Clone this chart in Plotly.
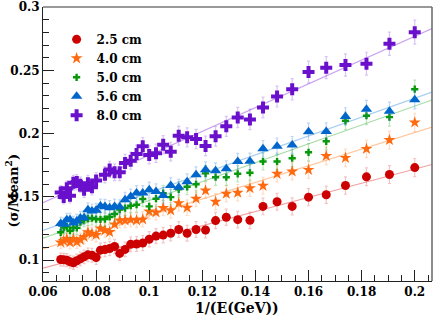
import numpy as np
import plotly.graph_objects as go

# Beam energies (GeV); x axis is 1/E
energy_gev = [15, 14.75, 14.5, 14.25, 14, 13.75, 13.5, 13.25, 13, 12.75, 12.5, 12.25,
              12, 11.75, 11.5, 11.25, 11, 10.75, 10.5, 10.25, 10, 9.75, 9.5, 9.25,
              9, 8.75, 8.5, 8.25, 8, 7.75, 7.5, 7.25, 7, 6.75, 6.5, 6.25, 6, 5.75,
              5.5, 5.25, 5]

res_2p5 = [0.1005, 0.1003, 0.1000, 0.0987, 0.0979, 0.0995, 0.1010, 0.1026, 0.1042, 0.1039,
           0.1021, 0.1079, 0.1084, 0.1092, 0.1108, 0.1053, 0.1085, 0.1125, 0.1128, 0.1135,
           0.1165, 0.1190, 0.1198, 0.1213, 0.1242, 0.1213, 0.1242, 0.1238, 0.1313, 0.1339,
           0.1320, 0.1315, 0.1425, 0.1462, 0.1425, 0.1498, 0.1517, 0.1590, 0.1659, 0.1677,
           0.1732]
res_4p0 = [0.1140, 0.1152, 0.1168, 0.1140, 0.1168, 0.1145, 0.1160, 0.1184, 0.1220, 0.1210,
           0.1200, 0.1250, 0.1236, 0.1222, 0.1283, 0.1313, 0.1315, 0.1320, 0.1315, 0.1322,
           0.1385, 0.1378, 0.1413, 0.1394, 0.1451, 0.1415, 0.1486, 0.1551, 0.1462, 0.1525,
           0.1533, 0.1569, 0.1588, 0.1683, 0.1701, 0.1714, 0.1824, 0.1809, 0.1880, 0.1950,
           0.2089]
res_5p0 = [0.1220, 0.1257, 0.1265, 0.1233, 0.1257, 0.1255, 0.1300, 0.1318, 0.1328, 0.1333,
           0.1325, 0.1323, 0.1325, 0.1341, 0.1365, 0.1400, 0.1412, 0.1430, 0.1438, 0.1483,
           0.1425, 0.1486, 0.1530, 0.1498, 0.1560, 0.1580, 0.1600, 0.1686, 0.1656, 0.1656,
           0.1683, 0.1691, 0.1780, 0.1780, 0.1806, 0.1853, 0.1940, 0.2102, 0.2142, 0.2131,
           0.2352]
res_5p6 = [0.1289, 0.1283, 0.1320, 0.1320, 0.1294, 0.1310, 0.1333, 0.1336, 0.1399, 0.1388,
           0.1394, 0.1428, 0.1425, 0.1415, 0.1425, 0.1420, 0.1478, 0.1504, 0.1530, 0.1530,
           0.1557, 0.1543, 0.1512, 0.1590, 0.1577, 0.1620, 0.1675, 0.1714, 0.1706, 0.1722,
           0.1780, 0.1782, 0.1880, 0.1900, 0.1911, 0.2016, 0.2018, 0.2136, 0.2194, 0.2178,
           0.2268]
res_8p0 = [0.1535, 0.1499, 0.1569, 0.1509, 0.1612, 0.1617, 0.1596, 0.1557, 0.1609, 0.1577,
           0.1630, None, 0.1675, 0.1717, 0.1695, 0.1695, 0.1769, 0.1787, 0.1840, 0.1900,
           0.1832, 0.1845, 0.1913, 0.1858, 0.1984, 0.1971, 0.1958, 0.1903, 0.1979, 0.2058,
           0.2128, 0.2113, 0.2207, 0.2294, 0.2352, 0.2488, 0.2522, 0.2543, 0.2554, 0.2711,
           0.2803]

err_common = [0.0050, 0.0050, 0.0051, 0.0051, 0.0052, 0.0052, 0.0053, 0.0053, 0.0054,
              0.0054, 0.0055, 0.0055, 0.0056, 0.0056, 0.0057, 0.0057, 0.0058,
              0.0058, 0.0059, 0.0059, 0.0060, 0.0060, 0.0061, 0.0061, 0.0062,
              0.0062, 0.0063, 0.0063, 0.0064, 0.0064, 0.0065, 0.0065, 0.0066,
              0.0066, 0.0067, 0.0068, 0.0068, 0.0069, 0.0070, 0.0071, 0.0072]
err_8p0 = [0.0055, 0.0055, 0.0056, 0.0057, 0.0058, 0.0059, 0.0060, 0.0060, 0.0061,
           0.0062, 0.0063, 0.0064, 0.0064, 0.0065, 0.0066, 0.0067, 0.0068,
           0.0068, 0.0069, 0.0070, 0.0071, 0.0072, 0.0072, 0.0073, 0.0074,
           0.0075, 0.0076, 0.0077, 0.0078, 0.0079, 0.0080, 0.0081, 0.0082,
           0.0083, 0.0084, 0.0086, 0.0087, 0.0088, 0.0090, 0.0092, 0.0095]

labels = ["2.5 cm", "4.0 cm", "5.0 cm", "5.6 cm", "8.0 cm"]
x_range = [0.06, 0.2065]
y_range = [0.0835, 0.3002]
x_ticks = [0.06, 0.08, 0.1, 0.12, 0.14, 0.16, 0.18, 0.2]
x_ticktext = ["0.06", "0.08", "0.1", "0.12", "0.14", "0.16", "0.18", "0.2"]
y_ticks = [0.1, 0.15, 0.2, 0.25, 0.3]
y_ticktext = ["0.1", "0.15", "0.2", "0.25", "0.3"]

inv_e = [1.0 / e for e in energy_gev]

styles = [
    (res_2p5, err_common, "#cc0000", "rgba(220,60,60,0.30)", "#f0a0a0", "circle", 9),
    (res_4p0, err_common, "#ff6a10", "rgba(255,140,60,0.30)", "#ffc8a0", "star", 9),
    (res_5p0, err_common, "#079907", "rgba(40,170,40,0.30)", "#a8dca8", "cross", 6),
    (res_5p6, err_common, "#0066cc", "rgba(40,120,220,0.30)", "#a8cff0", "triangle-up", 10),
    (res_8p0, err_8p0, "#6a0fcc", "rgba(130,60,220,0.30)", "#caa4f0", "cross", 10),
]

FONT = "DejaVu Serif"
fig = go.Figure()

# fit lines (linear fits of each series)
for (vals, errs, col, ecol, lcol, sym, sz), lab in zip(styles, labels):
    xs = np.array([x for x, v in zip(inv_e, vals) if v is not None])
    ys = np.array([v for v in vals if v is not None])
    ws = np.array([1.0 / e for e, v in zip(errs, vals) if v is not None])
    slope, icpt = np.polyfit(xs, ys, 1, w=ws)
    fig.add_trace(go.Scatter(x=x_range, y=[icpt + slope * x_range[0], icpt + slope * x_range[1]],
                             mode="lines", line=dict(color=lcol, width=1.2),
                             showlegend=False, hoverinfo="skip"))

for (vals, errs, col, ecol, lcol, sym, sz), lab in zip(styles, labels):
    fig.add_trace(go.Scatter(
        x=inv_e, y=vals, mode="markers", name=lab,
        marker=dict(symbol=sym, size=sz, color=col, line=dict(width=0)),
        error_y=dict(type="data", array=errs, visible=True, color=ecol, thickness=1.2, width=1.5),
    ))

tickfont = dict(family=FONT, size=12, color="black", weight="bold")
fig.update_layout(
    width=441, height=315,
    margin=dict(l=43, r=9, t=7, b=34),
    paper_bgcolor="white", plot_bgcolor="white",
    showlegend=True,
    legend=dict(x=0.035, y=0.935, xanchor="left", yanchor="top",
                font=dict(family=FONT, size=12, color="black", weight="bold"),
                bgcolor="rgba(0,0,0,0)", itemwidth=30, tracegroupgap=0),
    xaxis=dict(range=x_range, showgrid=False, zeroline=False,
               tickmode="array", tickvals=x_ticks, ticktext=x_ticktext,
               ticks="inside", ticklen=11, tickcolor="#222", tickwidth=1,
               minor=dict(ticks="inside", ticklen=6, dtick=0.005, tick0=0.06, tickcolor="#222"),
               showline=True, linecolor="#222", linewidth=1, mirror=False,
               tickfont=tickfont, automargin=False),
    yaxis=dict(range=y_range, showgrid=False, zeroline=False,
               tickmode="array", tickvals=y_ticks, ticktext=y_ticktext,
               ticks="inside", ticklen=11, tickcolor="#222", tickwidth=1,
               minor=dict(ticks="inside", ticklen=6, dtick=0.01, tick0=0.1, tickcolor="#222"),
               showline=True, linecolor="#222", linewidth=1, mirror=False,
               tickfont=tickfont, automargin=False),
    shapes=[
        dict(type="line", xref="paper", yref="paper", x0=0, x1=1, y0=1, y1=1,
             line=dict(color="#999999", width=2)),
        dict(type="line", xref="paper", yref="paper", x0=1, x1=1, y0=0, y1=1,
             line=dict(color="#666666", width=1.5)),
    ],
    annotations=[
        dict(text="1/(E(GeV))", xref="paper", yref="paper", x=0.499, y=-0.097,
             xanchor="center", yanchor="middle", showarrow=False,
             font=dict(family=FONT, size=14, color="black", weight="bold")),
        dict(text="(σ/Mean<sup>2</sup>)", xref="paper", yref="paper", x=-0.08, y=0.33,
             xanchor="center", yanchor="middle", showarrow=False, textangle=-90,
             font=dict(family=FONT, size=13, color="black", weight="bold")),
    ],
)

fig.write_html("out.html", config={"displayModeBar": False},
               post_script="document.body.style.margin='0';")
